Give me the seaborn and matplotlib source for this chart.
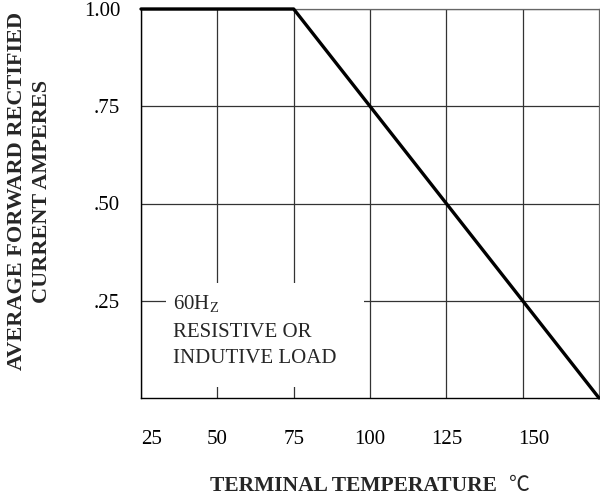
import matplotlib
matplotlib.use("Agg")
import matplotlib.pyplot as plt
import matplotlib.patches as patches
import matplotlib.transforms as mtransforms
import seaborn as sns
import pandas as pd

# derating curve: flat up to 75 C, then linear down to zero at 175 C
temps = [25, 75, 175]
current = [1.00, 1.00, 0.00]

x_ticks = [25, 50, 75, 100, 125, 150]
y_ticks = [0.25, 0.50, 0.75, 1.00]
y_tick_labels = [".25", ".50", ".75", "1.00"]

sns.set_style("white")
plt.rcParams["font.family"] = ["Liberation Serif", "DejaVu Serif"]
plt.rcParams["mathtext.fontset"] = "custom"
plt.rcParams["mathtext.rm"] = "Liberation Serif"

df = pd.DataFrame({"temp": temps, "amps": current})

fig = plt.figure(figsize=(6.0, 5.01), dpi=100)
ax = fig.add_axes([141 / 600, 1 - 398 / 501, 458 / 600, 389 / 501])

sns.lineplot(data=df, x="temp", y="amps", color="black", linewidth=2.4,
             ax=ax, zorder=4, clip_on=False)

ax.set_xlim(25, 175)
ax.set_ylim(0, 1.0)
ax.set_xticks(x_ticks)
ax.set_yticks(y_ticks)
ax.set_yticklabels(y_tick_labels)
ax.grid(True, color="#333333", linewidth=0.9)
ax.set_axisbelow(True)
ax.tick_params(axis="both", length=0, labelsize=15, colors="black")
ax.tick_params(axis="x", pad=23)
ax.tick_params(axis="y", pad=15)

# first and last x labels sit a little right of their grid lines
for lab in (ax.get_xticklabels()[0], ax.get_xticklabels()[-1]):
    lab.set_transform(lab.get_transform() +
                      mtransforms.ScaledTranslation(11 / 100, 0, fig.dpi_scale_trans))

for side in ["top", "right"]:
    ax.spines[side].set_color("#666666")
    ax.spines[side].set_linewidth(0.9)
for side in ["left", "bottom"]:
    ax.spines[side].set_color("black")
    ax.spines[side].set_linewidth(1.0)

# white patch under the note so the grid is broken there
ax.add_patch(patches.Rectangle((0.055, 0.028), 0.432, 0.268, transform=ax.transAxes,
                               facecolor="white", edgecolor="none", zorder=2))
ax.text(0.07, 0.268, "60H$_\\mathrm{Z}$\nRESISTIVE OR\nINDUTIVE LOAD",
        transform=ax.transAxes, fontsize=15, va="top", ha="left",
        linespacing=1.52, zorder=3)

ax.set_xlabel("TERMINAL TEMPERATURE", fontsize=15.5, fontweight="bold")
ax.xaxis.set_label_coords(0.464, -0.2)
ax.annotate("℃", xy=(1, 0), xycoords=ax.xaxis.label, xytext=(9, 0),
            textcoords="offset points", fontsize=15, va="bottom", ha="left",
            family=["Noto Sans CJK JP", "DejaVu Sans"])

ax.set_ylabel("AVERAGE FORWARD RECTIFIED\nCURRENT AMPERES", fontsize=16,
              fontweight="bold", linespacing=1.35)
ax.yaxis.set_label_coords(-0.194, 0.532)

fig.savefig("out.png", dpi=100)
